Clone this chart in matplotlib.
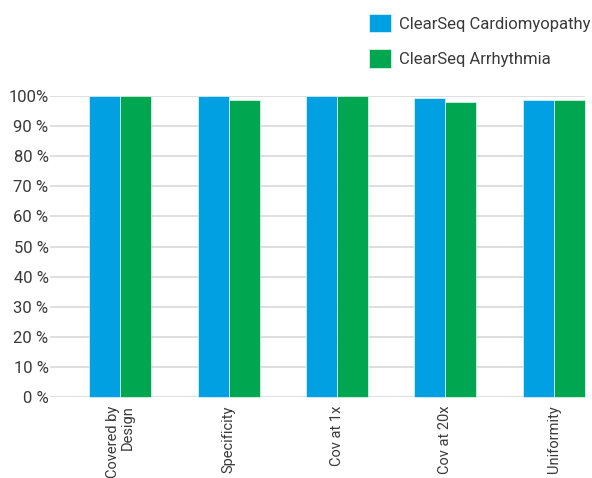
import numpy as np
import matplotlib
matplotlib.use("Agg")
import matplotlib.pyplot as plt

plt.rcParams['font.family'] = ['Roboto', 'DejaVu Sans']

categories = ["Covered by\nDesign", "Specificity", "Cov at 1x", "Cov at 20x", "Uniformity"]
cardio = [100.0, 100.0, 100.0, 99.4, 98.7]
arrhythmia = [100.0, 98.7, 100.0, 98.1, 98.7]
ytick_vals = [0, 10, 20, 30, 40, 50, 60, 70, 80, 90, 100]
ytick_labels = ["0 %", "10 %", "20 %", "30 %", "40 %", "50 %", "60 %", "70 %", "80 %", "90 %", "100%"]

blue = "#00a0e3"
green = "#00a650"
text_col = "#3a3a3a"

fig = plt.figure(figsize=(5.92, 4.78), dpi=100)
ax = fig.add_axes([50/592, 81/478, 535/592, 301/478])

x = np.arange(len(categories))
w = 0.287
ax.bar(x - w/2, cardio, w, color=blue, edgecolor="white", linewidth=0.4,
       label="ClearSeq Cardiomyopathy", zorder=3, clip_on=False)
ax.bar(x + w/2, arrhythmia, w, color=green, edgecolor="white", linewidth=0.4,
       label="ClearSeq Arrhythmia", zorder=3, clip_on=False)

ax.set_xlim(-0.65, 4.29)
ax.set_ylim(0, 100)
ax.set_yticks(ytick_vals)
ax.set_yticklabels(ytick_labels, fontsize=12, color=text_col)
ax.yaxis.grid(True, color="#d9d9d9", linewidth=1.2, zorder=0)
ax.set_xticks(x)
ax.set_xticklabels(categories, rotation=90, fontsize=10.5, color=text_col,
                   va="top", ha="center", multialignment="right", linespacing=1.0)
ax.tick_params(axis="both", length=0)
ax.tick_params(axis="y", pad=1)
ax.tick_params(axis="x", pad=6)
for s in ax.spines.values():
    s.set_visible(False)

leg = fig.legend(loc="upper left", bbox_to_anchor=(357/592, 1 - 2/478),
                 frameon=False, fontsize=12, handlelength=1.35, handleheight=1.35,
                 handletextpad=0.45, labelspacing=1.0, labelcolor=text_col,
                 borderpad=0.2)

fig.savefig("out.png", dpi=100)
